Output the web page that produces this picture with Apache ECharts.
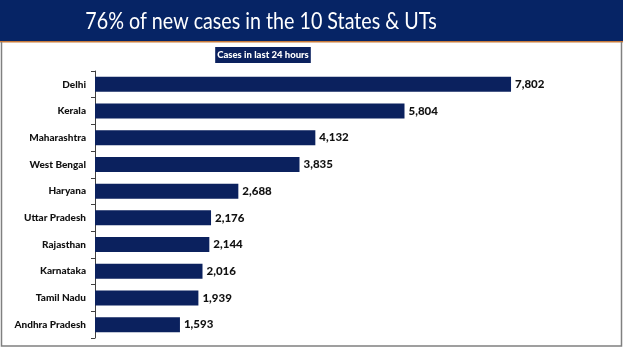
<!DOCTYPE html>
<html>
<head>
<meta charset="utf-8">
<script src="https://cdn.jsdelivr.net/npm/echarts@6/dist/echarts.min.js"></script>
<style>
  html, body { margin: 0; padding: 0; background: #fff; }
  #chart { width: 623px; height: 351px; }
</style>
</head>
<body>
<div id="chart"></div>
<script>
// States, top to bottom as shown
const states = ['Delhi', 'Kerala', 'Maharashtra', 'West Bengal', 'Haryana',
  'Uttar Pradesh', 'Rajasthan', 'Karnataka', 'Tamil Nadu', 'Andhra Pradesh'];
const cases = [7802, 5804, 4132, 3835, 2688, 2176, 2144, 2016, 1939, 1593];

const navy = '#0b215e';
const labelFont = 'Lato';

let chart = echarts.init(document.getElementById('chart'));

let option = {
  animation: false,
  backgroundColor: '#fff',
  graphic: [
    // header band
    { type: 'rect', shape: { x: 0, y: 0, width: 623, height: 41 }, style: { fill: '#062465' }, z: 0 },
    { type: 'rect', shape: { x: 0, y: 41, width: 623, height: 1.5 }, style: { fill: '#c87a3a' }, z: 0 },
    // frame
    { type: 'polyline', shape: { points: [[1.5, 42], [1.5, 346], [621.5, 346], [621.5, 42]] },
      style: { stroke: '#808080', lineWidth: 1.5, fill: null }, z: 0 },
    // main heading (narrowed to match the original face)
    { type: 'text', x: 261, y: 21, scaleX: 0.82, z: 2,
      style: { text: '76% of new cases in the 10 States & UTs', fill: '#fff',
        font: 'normal 24px Lato', textAlign: 'center', textVerticalAlign: 'middle' } }
  ],
  title: {
    text: 'Cases in last 24 hours',
    left: 261, top: 47, textAlign: 'center',
    backgroundColor: navy,
    padding: [3, 2],
    textStyle: { color: '#fff', fontFamily: labelFont, fontWeight: 900, fontSize: 9.5 }
  },
  grid: { left: 95, top: 71, bottom: 13, width: 426.6 },
  xAxis: {
    type: 'value',
    min: 0,
    max: 8000,
    show: false
  },
  yAxis: {
    type: 'category',
    data: states,
    inverse: true,
    axisLine: { show: true, lineStyle: { color: '#404040', width: 1 } },
    axisTick: { show: true, length: 4, lineStyle: { color: '#404040' } },
    axisLabel: {
      margin: 9,
      color: '#111',
      fontFamily: labelFont,
      fontWeight: 900,
      fontSize: 10
    }
  },
  series: [{
    type: 'bar',
    data: cases,
    barWidth: 15,
    itemStyle: { color: navy },
    label: {
      show: true,
      position: 'right',
      distance: 4,
      color: '#111',
      fontFamily: labelFont,
      fontWeight: 900,
      fontSize: 11.5,
      formatter: p => p.value.toLocaleString('en-US')
    }
  }]
};

chart.setOption(option);
</script>
</body>
</html>
